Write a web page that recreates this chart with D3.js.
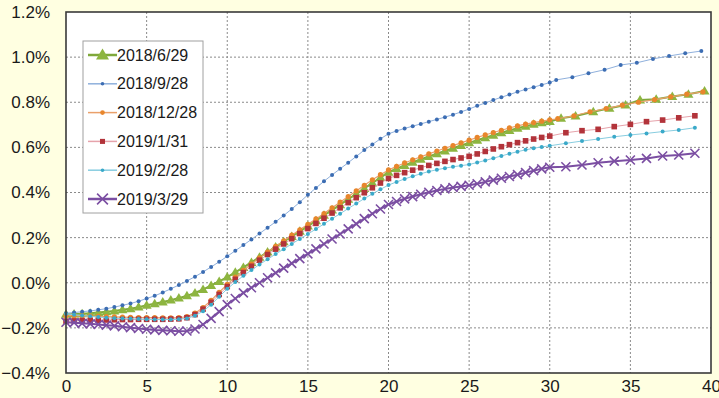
<!DOCTYPE html>
<html>
<head>
<meta charset="utf-8">
<script src="https://cdn.jsdelivr.net/npm/d3@7"></script>
<style>
  html, body { margin: 0; padding: 0; background: #ffffe1; }
  svg { display: block; font-family: "Liberation Sans", Arial, sans-serif; }
</style>
</head>
<body>
<div id="chart"></div>
<script>
// maturity grid (years) for the dense part of each curve
const denseX = [0,0.5,1,1.5,2,2.5,3,3.5,4,4.5,5,5.5,6,6.5,7,7.5,8,8.5,9,9.5,10,10.5,11,11.5,12,12.5,13,13.5,14,14.5,15,15.5,16,16.5,17,17.5,18,18.5,19,19.5,20,20.5,21,21.5,22,22.5,23,23.5,24,24.5,25,25.5,26,26.5,27,27.5,28,28.5,29,29.5,30];

// values in %
const jun29 = [-0.14,-0.139,-0.137,-0.135,-0.132,-0.129,-0.125,-0.12,-0.115,-0.108,-0.1,-0.093,-0.085,-0.077,-0.068,-0.058,-0.045,-0.03,-0.012,0.006,0.025,0.046,0.068,0.09,0.113,0.136,0.159,0.182,0.205,0.228,0.251,0.275,0.299,0.322,0.346,0.37,0.394,0.418,0.442,0.466,0.49,0.506,0.52,0.534,0.547,0.56,0.572,0.584,0.596,0.608,0.62,0.632,0.643,0.654,0.665,0.675,0.685,0.694,0.702,0.709,0.715];
const jun29TailX = [30.7,31.6,32.7,33.7,34.7,35.6,36.6,37.6,38.6,39.6];
const jun29Tail = [0.729,0.739,0.758,0.773,0.788,0.81,0.813,0.825,0.835,0.85];

const sep28 = [-0.135,-0.132,-0.128,-0.125,-0.12,-0.115,-0.108,-0.1,-0.092,-0.082,-0.07,-0.058,-0.043,-0.027,-0.01,0.008,0.027,0.048,0.07,0.093,0.117,0.142,0.167,0.192,0.218,0.244,0.27,0.298,0.327,0.357,0.39,0.42,0.45,0.478,0.505,0.532,0.56,0.588,0.613,0.638,0.66,0.673,0.684,0.694,0.704,0.714,0.724,0.734,0.745,0.757,0.77,0.784,0.797,0.81,0.822,0.834,0.846,0.857,0.867,0.877,0.887];
const sep28TailX = [30.4,31.4,32.4,33.4,34.4,35.4,36.4,37.4,38.4,39.4];
const sep28Tail = [0.899,0.911,0.928,0.944,0.965,0.975,0.992,1.005,1.017,1.027];

const dec28 = [-0.145,-0.146,-0.147,-0.148,-0.149,-0.15,-0.151,-0.152,-0.153,-0.154,-0.155,-0.155,-0.156,-0.156,-0.155,-0.15,-0.135,-0.11,-0.078,-0.042,-0.007,0.025,0.055,0.083,0.11,0.136,0.161,0.186,0.211,0.235,0.259,0.283,0.307,0.332,0.357,0.382,0.407,0.432,0.456,0.479,0.5,0.516,0.531,0.545,0.558,0.571,0.584,0.596,0.608,0.62,0.632,0.644,0.655,0.666,0.676,0.686,0.695,0.703,0.71,0.716,0.722];
const dec28TailX = [30.5,31.5,32.5,33.5,34.5,35.5,36.5,37.5,38.5,39.5];
const dec28Tail = [0.727,0.74,0.758,0.772,0.787,0.8,0.812,0.824,0.836,0.846];

const jan31 = [-0.17,-0.169,-0.168,-0.167,-0.166,-0.165,-0.164,-0.163,-0.163,-0.162,-0.162,-0.162,-0.162,-0.161,-0.16,-0.155,-0.141,-0.117,-0.087,-0.052,-0.017,0.015,0.045,0.073,0.1,0.125,0.149,0.172,0.195,0.218,0.24,0.263,0.286,0.309,0.332,0.355,0.377,0.399,0.421,0.442,0.462,0.476,0.488,0.499,0.51,0.52,0.529,0.538,0.546,0.553,0.56,0.571,0.582,0.593,0.603,0.612,0.621,0.629,0.637,0.644,0.65];
const jan31TailX = [31,32,33,34,35,36,37,38,39];
const jan31Tail = [0.665,0.674,0.68,0.692,0.702,0.714,0.721,0.731,0.74];

const feb28 = [-0.138,-0.142,-0.145,-0.149,-0.152,-0.155,-0.157,-0.159,-0.16,-0.161,-0.162,-0.163,-0.163,-0.163,-0.162,-0.158,-0.146,-0.126,-0.097,-0.062,-0.027,0.003,0.031,0.056,0.081,0.104,0.127,0.149,0.172,0.194,0.216,0.238,0.261,0.284,0.306,0.329,0.351,0.373,0.394,0.414,0.433,0.447,0.46,0.472,0.483,0.493,0.501,0.508,0.514,0.519,0.524,0.533,0.542,0.552,0.562,0.572,0.581,0.589,0.596,0.602,0.607];
const feb28TailX = [31,32,33,34,35,36,37,38,39];
const feb28Tail = [0.618,0.628,0.637,0.647,0.655,0.662,0.67,0.677,0.687];

const mar29 = [-0.175,-0.177,-0.18,-0.182,-0.185,-0.188,-0.191,-0.195,-0.199,-0.203,-0.206,-0.209,-0.211,-0.213,-0.215,-0.214,-0.205,-0.185,-0.158,-0.128,-0.097,-0.07,-0.045,-0.022,0,0.022,0.044,0.065,0.086,0.107,0.128,0.15,0.172,0.194,0.216,0.239,0.261,0.284,0.306,0.327,0.347,0.36,0.372,0.382,0.392,0.401,0.409,0.416,0.422,0.427,0.432,0.439,0.447,0.455,0.463,0.471,0.479,0.488,0.497,0.505,0.512];
const mar29TailX = [31,32,33,34,35,36,37,38,39];
const mar29Tail = [0.514,0.522,0.532,0.539,0.544,0.551,0.562,0.566,0.574];

const seriesNames = ["2018/6/29","2018/9/28","2018/12/28","2019/1/31","2019/2/28","2019/3/29"];
const xTicks = [0,5,10,15,20,25,30,35,40];
const yTicks = [-0.4,-0.2,0,0.2,0.4,0.6,0.8,1.0,1.2];

function joinSeries(dense, tailX, tail) {
  return denseX.map((x, i) => ({ x: x, v: dense[i] }))
    .concat(tailX.map((x, i) => ({ x: x, v: tail[i] })));
}

const series = [
  { name: seriesNames[0], data: joinSeries(jun29, jun29TailX, jun29Tail), line: "#7fa83a", mark: "#8db540", shape: "triangle", lw: 2 },
  { name: seriesNames[1], data: joinSeries(sep28, sep28TailX, sep28Tail), line: "#8fb0dc", mark: "#3c6db3", shape: "dot", lw: 1 },
  { name: seriesNames[2], data: joinSeries(dec28, dec28TailX, dec28Tail), line: "#eaa06a", mark: "#e8862c", shape: "circle", lw: 1.2 },
  { name: seriesNames[3], data: joinSeries(jan31, jan31TailX, jan31Tail), line: "#e6a3ab", mark: "#b2333a", shape: "square", lw: 1 },
  { name: seriesNames[4], data: joinSeries(feb28, feb28TailX, feb28Tail), line: "#88cde0", mark: "#3aa9c9", shape: "dot", lw: 1 },
  { name: seriesNames[5], data: joinSeries(mar29, mar29TailX, mar29Tail), line: "#7b4ea2", mark: "#7b4ea2", shape: "cross", lw: 2 }
];

const width = 719, height = 398;
const margin = { top: 12, right: 8, bottom: 25, left: 66 };

const svg = d3.select("#chart").append("svg")
  .attr("width", width)
  .attr("height", height);

svg.append("rect").attr("width", width).attr("height", height).attr("fill", "#ffffe1");

const x = d3.scaleLinear().domain([0, 40]).range([margin.left, width - margin.right]);
const y = d3.scaleLinear().domain([-0.4, 1.2]).range([height - margin.bottom, margin.top]);

// plot area
svg.append("rect")
  .attr("x", x(0)).attr("y", y(1.2))
  .attr("width", x(40) - x(0)).attr("height", y(-0.4) - y(1.2))
  .attr("fill", "#fff");

// grid
svg.append("g")
  .selectAll("line.gx")
  .data(xTicks.slice(1, -1))
  .join("line")
  .attr("x1", d => x(d)).attr("x2", d => x(d))
  .attr("y1", y(1.2)).attr("y2", y(-0.4))
  .attr("stroke", "#8a8a8a").attr("stroke-width", 1).attr("stroke-dasharray", "2,2");

svg.append("g")
  .selectAll("line.gy")
  .data(yTicks.slice(1, -1))
  .join("line")
  .attr("x1", x(0)).attr("x2", x(40))
  .attr("y1", d => y(d)).attr("y2", d => y(d))
  .attr("stroke", "#8a8a8a").attr("stroke-width", 1).attr("stroke-dasharray", "2,2");

// axes labels
const xAxis = g => g
  .attr("transform", `translate(0,${y(-0.4)})`)
  .call(d3.axisBottom(x).tickValues(xTicks).tickSize(0).tickPadding(7))
  .call(g => g.select(".domain").remove())
  .call(g => g.selectAll("text").attr("font-size", 17).attr("fill", "#1a1a1a")
    .attr("font-family", "Liberation Sans, Arial, sans-serif"));

const yAxis = g => g
  .attr("transform", `translate(${x(0)},0)`)
  .call(d3.axisLeft(y).tickValues(yTicks).tickSize(0).tickPadding(16)
    .tickFormat(d => d3.format(".1f")(d) + "%"))
  .call(g => g.select(".domain").remove())
  .call(g => g.selectAll("text").attr("font-size", 17).attr("fill", "#1a1a1a")
    .attr("font-family", "Liberation Sans, Arial, sans-serif"));

svg.append("g").call(xAxis);
svg.append("g").call(yAxis);

// markers
function drawMarker(g, shape, color, cx, cy, scale) {
  const s = scale || 1;
  if (shape === "triangle") {
    const r = 5 * s;
    g.append("path")
      .attr("d", `M${cx},${cy - r}L${cx + r},${cy + r * 0.7}L${cx - r},${cy + r * 0.7}Z`)
      .attr("fill", color);
  } else if (shape === "dot") {
    g.append("circle").attr("cx", cx).attr("cy", cy).attr("r", 2 * s).attr("fill", color);
  } else if (shape === "circle") {
    g.append("circle").attr("cx", cx).attr("cy", cy).attr("r", 2.6 * s).attr("fill", color);
  } else if (shape === "square") {
    const h = 2.8 * s;
    g.append("rect").attr("x", cx - h).attr("y", cy - h).attr("width", 2 * h).attr("height", 2 * h).attr("fill", color);
  } else if (shape === "cross") {
    const h = 4.5 * s;
    g.append("path")
      .attr("d", `M${cx - h},${cy - h}L${cx + h},${cy + h}M${cx - h},${cy + h}L${cx + h},${cy - h}`)
      .attr("stroke", color).attr("stroke-width", 1.6).attr("fill", "none");
  }
}

const line = d3.line()
  .x(d => x(d.x))
  .y(d => y(d.v));

series.forEach(s => {
  const g = svg.append("g");
  g.append("path")
    .datum(s.data)
    .attr("fill", "none")
    .attr("stroke", s.line)
    .attr("stroke-width", s.lw)
    .attr("stroke-linejoin", "round")
    .attr("d", line);
  s.data.forEach(d => drawMarker(g, s.shape, s.mark, x(d.x), y(d.v)));
});

// frame
svg.append("rect")
  .attr("x", x(0)).attr("y", y(1.2))
  .attr("width", x(40) - x(0)).attr("height", y(-0.4) - y(1.2))
  .attr("fill", "none").attr("stroke", "#3a3a3a").attr("stroke-width", 1.6);

// legend
const legend = svg.append("g").attr("transform", "translate(83,41)");
legend.append("rect")
  .attr("width", 120).attr("height", 172)
  .attr("fill", "#fff").attr("stroke", "#a0a0a0").attr("stroke-width", 1);

series.forEach((s, i) => {
  const ly = 14 + i * 28.8;
  const row = legend.append("g");
  row.append("line")
    .attr("x1", 5).attr("x2", 34).attr("y1", ly).attr("y2", ly)
    .attr("stroke", s.line).attr("stroke-width", s.lw === 2 ? 2.5 : 1.5);
  drawMarker(row, s.shape, s.mark, 19.5, ly, s.shape === "triangle" ? 1.3 : (s.shape === "cross" ? 1.2 : 0.9));
  row.append("text")
    .attr("x", 34).attr("y", ly).attr("dy", "0.35em")
    .attr("font-size", 16).attr("fill", "#1a1a1a")
    .text(s.name);
});
</script>
</body>
</html>
